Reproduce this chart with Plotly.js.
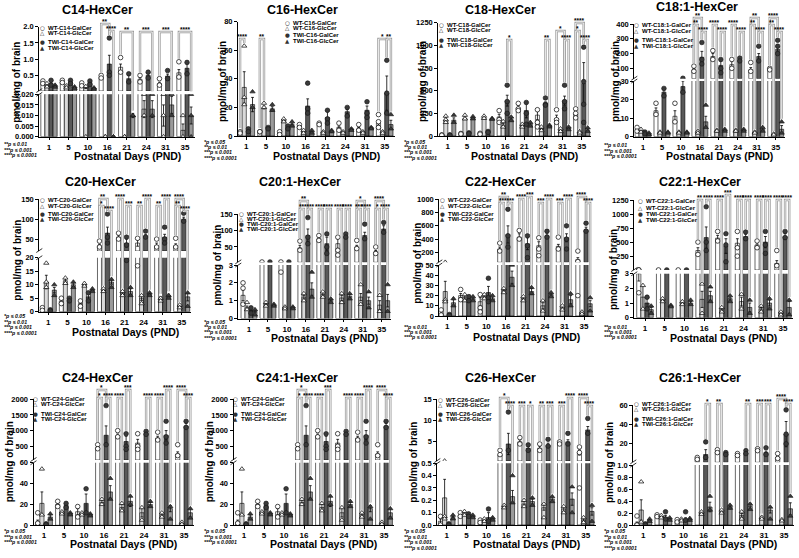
<!DOCTYPE html>
<html>
<head>
<meta charset="utf-8">
<script src="https://cdn.plot.ly/plotly-3.0.1.min.js"></script>
<style>html,body{margin:0;padding:0;background:#fff}#chart{width:799px;height:558px}</style>
</head>
<body>
<div id="chart"></div>
<script>
// Postnatal days sampled
const days = [1, 5, 10, 16, 21, 24, 31, 35];
// Series order in every panel: WT-GalCer, WT-GlcCer, TWI-GalCer, TWI-GlcCer

// ---- C14 ----
const c14Mean = [[0.28,0.30,0.22,0.45,0.75,0.38,0.25,0.58],[0.20,0.15,0.12,0.0,0.0,0.013,0.010,0.003],[0.25,0.30,0.28,0.85,0.40,0.50,0.48,0.72],[0.17,0.12,0.10,0.0,0.010,0.013,0.015,0.010]];
const c14Sem = [[0.03,0.02,0.03,0.03,0.1,0.05,0.04,0.1],[0.03,0.02,0.02,0,0,0.004,0.005,0.003],[0.04,0.03,0.04,0.27,0.1,0.05,0.06,0.17],[0.02,0.02,0.02,0,0.001,0.004,0.004,0.004]];
const c14Pts = [[[0.33,0.25],[0.35,0.28],[0.27,0.18],[0.5,0.42],[1.05,0.6],[0.5,0.3],[0.4,0.2],[0.92,0.45]],[[0.25,0.15],[0.18,0.12],[0.16,0],[0,0],[0,0],[0.02,0.01],[0.02,0.01,0],[0.01,0]],[[0.35,0.2],[0.35,0.25],[0.33,0.22],[1.65,0.6,0.5],[0.55,0.3],[0.6,0.42],[0.65,0.4],[0.9,0.55]],[[0.2,0.14],[0.15,0.1],[0.12,0.08],[0,0],[0.01,0.01],[0.02,0.01],[0.02,0.01],[0.02,0.01,0]]];

// ---- C16 ----
const c16Mean = [[3,3,2,7,8,6,5,9],[34,20,11,3,3,3,3,3],[4,6,6,21,13,17,18,30],[22,19,8,3,3,5,6,8]];
const c16Sem = [[0.5,0.5,0.5,0.5,0.5,1,1,1.5],[11,1,0.5,0.5,0.3,0.3,0.3,0.3],[0.5,0.5,0.5,5,4,1.5,3,12],[5,1.5,1,0.5,0.5,0.5,0.5,3]];
const c16Pts = [[[3,2],[3,3],[3,1],[8,6],[9,8],[9,4],[8,4],[15,10,6]],[[63,27,22],[23,20],[12,10],[4,2],[3,2],[3,2],[3,2],[3,2]],[[5,3],[6,5],[7,5],[37,19,16],[18,12,9],[20,14],[24,16,13],[53,30,16]],[[31,20],[22,18],[10,7],[4,2],[4,3],[5,4],[6,5],[15,5]]];

// ---- C18 ----
const c18Mean = [[10,25,25,210,310,230,190,250],[180,195,200,120,110,80,60,40],[10,30,45,390,280,360,390,580],[175,200,190,180,130,110,90,60]];
const c18Sem = [[2,3,3,30,30,50,40,30],[20,15,10,20,10,10,10,5],[2,3,5,60,80,15,50,230],[25,15,5,15,15,8,8,10]];
const c18Pts = [[[12,8],[28,22],[30,20],[280,180,150],[360,300,280],[290,150,100],[290,180,150],[300,250,200]],[[220,180,150],[230,190],[220,195],[160,100],[130,100],[100,60],[80,50],[50,35]],[[12,8],[35,25],[50,40],[560,380,250],[370,250,130],[420,350,340],[560,380,300],[980,600,350,150]],[[230,150],[215,190],[195,185],[210,170],[150,110],[120,100],[100,70],[90,50]]];

// ---- C18:1 ----
const c181Mean = [[4,14,11,90,180,125,90,95],[3,2,2,2,3,3,2,1],[2,24,27,175,120,160,180,230],[1.5,2,2,8,3.5,3.5,4,4]];
const c181Sem = [[0.5,1.5,3,10,20,25,15,5],[0.5,0.3,0.3,0.5,0.5,0.5,0.3,0.2],[0.3,1.5,3,40,30,10,20,30],[0.3,0.3,0.3,3,0.5,0.5,0.8,2]];
const c181Pts = [[[5,3],[18,12],[18,8],[115,80],[220,160],[160,100],[140,80],[100,90]],[[4,2.5],[2.5,2],[2.5,2],[3,2],[3.5,3],[3.5,3],[2.5,2],[1.5,1]],[[2.5,1.5],[26,22],[33,24],[275,160,130],[160,100,70],[170,150],[250,150],[290,250,200]],[[2,1],[2.5,2],[2.5,2],[17,5],[4,3],[4,3],[5,3],[8,2]]];

// ---- C20 ----
const c20Mean = [[1,4,3,33,55,40,33,33],[11,11.5,10,8,7,5,5,2],[0.5,4.5,5.5,65,40,58,55,100],[8,10,8,11,7.5,6.5,6,5.5]];
const c20Sem = [[0.3,0.5,0.8,4,5,8,7,5],[2.5,0.7,0.5,0.5,0.5,0.8,0.5,0.4],[0.2,0.5,1,15,10,3,7,5],[1,0.7,0.4,0.8,1,0.5,0.5,1.5]];
const c20Pts = [[[1.5,0.5],[5,3],[4,2],[45,30],[65,50],[52,17],[50,30],[52,30]],[[18,11,9],[12.5,10.5],[10.5,9.5],[8.5,7.5],[7.5,6],[6,3],[5,4],[2.5,1.5]],[[0.7,0.3],[5,4],[7,4],[113,55,40],[55,35,19],[70,55],[80,50,40],[115,95]],[[10,6],[11,9],[8.5,7.5],[12,9],[9,6],[7,6],[6,5],[7,2]]];

// ---- C20:1 ----
const c201Mean = [[1.3,4,3.5,47,75,60,50,35],[0.6,0.8,0.6,1.2,1.35,1.15,1.2,0.75],[0.45,4,4,85,60,85,85,105],[0.4,0.75,0.6,1.65,1.0,1.25,1.0,1.0]];
const c201Sem = [[0.3,0.2,0.3,8,6,15,5,4],[0.1,0.05,0.05,0.1,0.1,0.15,0.2,0.25],[0.05,0.2,0.2,20,20,5,10,10],[0.05,0.05,0.05,0.35,0.1,0.1,0.2,0.35]];
const c201Pts = [[[2,1.7,0.8],[4],[4,2.6],[68,40],[85,70],[80,40,25],[70,45],[50,30]],[[0.9,0.5],[0.9,0.7],[0.65,0.55],[1.4,1.0],[1.5,1.2],[1.4,0.9],[1.9,0.8],[1.3,0.4]],[[0.6,0.3],[4],[4],[140,80,60],[90,50,30],[90,80],[120,75],[125,95]],[[0.5,0.2],[0.8,0.7],[0.65,0.55],[2.6,1.2],[1.1,0.9],[1.4,1.1],[1.5,0.6],[1.9,0.4]]];

// ---- C22 ----
const c22Mean = [[2,20,14,250,430,300,290,90],[24,18,19,25,17,10,8,3],[1,17,23,470,330,450,420,540],[13,17,17,38,24,21,16,12]];
const c22Sem = [[1,2,4,30,50,60,30,30],[10,1.5,1,1.5,1.5,3,1.5,0.5],[0.3,1.5,6,130,90,30,60,40],[3,1.5,1.5,6,3,1.5,4,3]];
const c22Pts = [[[6,1],[26,16],[21,8,4],[340,220],[530,400],[420,250,150],[430,250],[220,60,20]],[[51,16,14],[21,15],[21,17],[27,23],[19,15],[15,5],[10,6],[4,2]],[[1.5,0.5],[19,15],[37,18,14],[850,450,280],[450,300,120],[520,430],[600,400,250],[640,520]],[[17,10],[19,15],[20,15],[50,30],[28,22],[23,19],[22,10],[18,5]]];

// ---- C22:1 ----
const c221Mean = [[3,4,4,350,570,480,450,120],[1.4,1.2,1.0,1.25,0.55,1.1,0.6,0.3],[1.0,4,4,580,430,600,500,600],[0.55,0.8,1.0,1.5,1.3,0.7,1.0,0.7]];
const c221Sem = [[0.5,0.2,0.2,50,50,80,40,50],[0.8,0.1,0.1,0.55,0.1,0.3,0.1,0.1],[0.3,0.2,0.2,190,130,40,100,50],[0.15,0.05,0.1,0.3,0.1,0.3,0.2,0.4]];
const c221Pts = [[[4,4,1.7],[4],[4],[500,280],[690,520],[690,400,250],[520,400],[350,80]],[[2.2,0.6],[1.3,1.1],[1.1,0.9],[2.3,0.3],[0.7,0.4],[1.6,0.6],[0.8,0.4],[0.4,0.2]],[[1.4,0.6],[4],[4],[1130,500,350],[650,450,150],[680,560],[690,450,300],[690,580]],[[0.8,0.3],[0.85,0.75],[1.2,0.9],[2.1,1.1],[1.5,1.1],[1.2,0.3],[1.3,0.6],[1.2,0.2]]];

// ---- C24 ----
const c24Mean = [[3,20,13,450,830,600,760,250],[21,12,11,22,17,12,10,2],[1,19,21,850,650,930,850,1150],[8,11,10,32,23,20,16,12]];
const c24Sem = [[2,1.5,3,40,60,120,60,70],[11,1,1,2,3,4,1.5,0.5],[0.3,1.5,9,300,170,40,150,80],[2,1,1,6,5,2,3,4]];
const c24Pts = [[[12,2],[23,18],[18,8],[550,420],[1000,800],[900,500,400],[950,700],[550,200]],[[54,10],[13,11],[12,10],[25,20],[21,14],[17,5],[12,8],[3,1]],[[1.5,0.5],[21,17],[35,12],[1800,550],[900,500,400],[980,880],[1300,800,600],[1300,1100]],[[11,6],[12,10],[11,9],[45,25],[28,20],[23,18],[18,6],[16,7]]];

// ---- C24:1 ----
const c241Mean = [[3,20,13,450,830,600,760,250],[21,12,11,22,17,12,10,2],[1,19,21,850,650,930,850,1150],[8,11,10,32,23,20,16,12]];
const c241Sem = [[2,1.5,3,40,60,120,60,70],[11,1,1,2,3,4,1.5,0.5],[0.3,1.5,9,300,170,40,150,80],[2,1,1,6,5,2,3,4]];
const c241Pts = [[[12,2],[23,18],[18,8],[550,420],[1000,800],[900,500,400],[950,700],[550,200]],[[54,10],[13,11],[12,10],[25,20],[21,14],[17,5],[12,8],[3,1]],[[1.5,0.5],[21,17],[35,12],[1800,550],[900,500,400],[980,880],[1300,800,600],[1300,1100]],[[11,6],[12,10],[11,9],[45,25],[28,20],[23,18],[18,6],[16,7]]];

// ---- C26 ----
const c26Mean = [[0.03,0.08,0.03,2,5,3.5,4.8,2.5],[0.22,0.09,0.04,0.15,0.17,0.14,0.13,0.04],[0.0,0.08,0.06,4.5,3.5,4.2,5,7.8],[0.06,0.07,0.05,0.23,0.19,0.21,0.21,0.11]];
const c26Sem = [[0.02,0.01,0.01,0.3,0.5,0.5,0.2,0.6],[0.15,0.01,0.01,0.01,0.02,0.02,0.02,0.01],[0.005,0.01,0.04,2.5,0.4,0.5,0.5,0.8],[0.01,0.01,0.01,0.05,0.02,0.02,0.05,0.03]];
const c26Pts = [[[0.07,0],[0.1,0.07],[0.04,0.02],[3,2],[6,4.5],[4.5,3],[5,4.5],[3.8,2.5,0.3]],[[0.52,0.07,0.05],[0.11,0.08],[0.05,0.03],[0.16,0.14],[0.2,0.15],[0.17,0.06],[0.15,0.1],[0.06,0.02]],[[0.01,0],[0.09,0.07],[0.13,0.03],[12,3],[4.3,3],[5.6,4],[7,4.5],[10.5,7]],[[0.08,0.05],[0.08,0.06],[0.06,0.04],[0.4,0.18],[0.22,0.16],[0.23,0.19],[0.31,0.1],[0.16,0.03]]];

// ---- C26:1 ----
const c261Mean = [[0.03,0.15,0.07,5,12,9,14,6],[0.25,0.14,0.09,0.2,0.22,0.16,0.12,0.08],[0.01,0.13,0.1,9,10,11,11,30],[0.08,0.1,0.09,0.3,0.3,0.31,0.25,0.27]];
const c261Sem = [[0.02,0.01,0.01,0.5,1,0.8,0.5,1],[0.17,0.01,0.02,0.02,0.02,0.03,0.02,0.01],[0.005,0.03,0.02,5,1,1,1.5,13],[0.02,0.02,0.02,0.08,0.03,0.05,0.05,0.1]];
const c261Pts = [[[0.15,0.0],[0.17,0.14],[0.09,0.05],[6,4],[14,11],[10,8],[15,13],[10,5]],[[0.72,0.05],[0.16,0.12],[0.1,0.07],[0.22,0.18],[0.25,0.2],[0.22,0.1],[0.13,0.1],[0.09,0.07]],[[0.02,0],[0.22,0.1],[0.22,0.08],[22,6],[11,9],[13,10],[16,9],[55,30,20]],[[0.1,0.06],[0.12,0.08],[0.11,0.08],[0.48,0.25],[0.33,0.28],[0.35,0.26],[0.3,0.1],[0.48,0.15]]];

// ---- drawing constants ----
const W = 799, H = 558;
const FONT = 'Liberation Sans, Arial, Helvetica, sans-serif';
const NARROW = 'Liberation Sans Narrow, Arial Narrow, Liberation Sans, sans-serif';
const GAP = 0.16, BW = (1 - GAP) / 4;
const barFill = ['#ffffff', '#d9d9d9', '#595959', '#9a9a9a'];
const markSym = ['circle', 'triangle-up', 'circle', 'triangle-up'];
const markFill = ['#ffffff', '#ffffff', '#3a3a3a', '#3a3a3a'];
const legendGlyph = ['○', '△', '●', '▲'];
const seriesPrefix = ['WT', 'WT', 'TWI', 'TWI'];
const seriesKind = ['GalCer', 'GlcCer', 'GalCer', 'GlcCer'];
const footText = {'*': '*p ≤ 0.05', '**': '**p ≤ 0.01', '***': '***p ≤ 0.001', '****': '****p ≤ 0.0001'};
const lin = (a, b, n) => Array.from({length: n}, (_, i) => +(a + (b - a) * i / (n - 1)).toFixed(6));

// panel geometry (pixel positions on the 799x558 page)
// low: bottom segment 0..L between pixel rows y0 and yL
// up : top segment u0..b between pixel rows ybt and yb
const panels = [
  {title:'C14-HexCer', sp:'C14', mean:c14Mean, sem:c14Sem, pts:c14Pts, x0:39.3, c1:49, c8:185,
   low:{L:0.02, y0:136.7, yL:94.3, ticks:lin(0,0.02,5), fmt:'.3f'}, up:{u0:0.02, ybt:91, b:2.0, yb:26.7, ticks:[0.5,1,1.5,2], fmt:'.1f'},
   tx:97, ty:10, ytx:16.7, yty:82, lg:{sx:42.7, ys:[28.3,33.3,42.5,47.5]}, fx:2, fy:[144,149.5,155], foot:['**','***','****'], xty:156,
   br:[[3,0,2,24,'**'],[3,2,3,31,'****'],[4,0,3,32,'**'],[5,0,3,32,'***'],[6,0,3,32,'***'],[7,0,3,32,'****']]},
  {title:'C16-HexCer', sp:'C16', mean:c16Mean, sem:c16Sem, pts:c16Pts, x0:238, c1:246.3, c8:384.7,
   low:{L:80, y0:136, yL:21.7, ticks:[0,20,40,60,80]},
   tx:302.7, ty:10, ytx:223, yty:82, lg:{sx:287.3, ys:[22.7,28,35.3,41]}, fx:202, fy:[141.7,147,152.3,157.6], foot:['*','**','***','****'], xty:156,
   br:[[0,0,1,39,'****'],[1,0,1,39,'**'],[7,0,2,39,'*'],[7,2,3,39,'**']]},
  {title:'C18-HexCer', sp:'C18', mean:c18Mean, sem:c18Sem, pts:c18Pts, x0:438.3, c1:447.8, c8:581.7,
   low:{L:1250, y0:136, yL:22.7, ticks:[0,250,500,750,1000,1250]},
   tx:500, ty:10, ytx:423, yty:82, lg:{sx:441.7, ys:[25,30,40.3,45.3]}, fx:402, fy:[141.7,147,152.3,157.6], foot:['*','**','***','****'], xty:156,
   br:[[3,2,3,40,'*'],[5,2,3,40,'**'],[6,0,2,31,'*'],[6,2,3,40,'****'],[7,0,2,23,'****'],[7,0,1,31,'*'],[7,2,3,40,'****']]},
  {title:'C18:1-HexCer', sp:'C18:1', mean:c181Mean, sem:c181Sem, pts:c181Pts, x0:634.3, c1:643, c8:775.7,
   low:{L:30, y0:136.7, yL:81, ticks:[0,10,20,30]}, up:{u0:30, ybt:78.7, b:400, yb:24, ticks:[100,200,300,400]},
   tx:696.7, ty:7.5, ytx:616, yty:82, lg:{sx:636, ys:[25,31,40,45.7]}, fx:602, fy:[145,150.7,156.4], foot:['**','***','****'], xty:156,
   br:[[3,0,2,18,'**'],[3,0,1,25,'**'],[3,2,3,32,'****'],[4,0,1,25,'****'],[4,2,3,32,'****'],[5,0,1,25,'****'],[5,2,3,32,'****'],[6,0,2,18,'**'],[6,0,1,25,'**'],[6,2,3,32,'****'],[7,0,2,18,'****'],[7,0,1,25,'**'],[7,2,3,32,'****']]},
  {title:'C20-HexCer', sp:'C20', mean:c20Mean, sem:c20Sem, pts:c20Pts, x0:39.3, c1:48.3, c8:181.7,
   low:{L:20, y0:311.7, yL:257.7, ticks:[0,5,10,15,20]}, up:{u0:20, ybt:251, b:150, yb:199.3, ticks:[50,100,150]},
   tx:100, ty:182, ytx:16.7, yty:260, lg:{sx:42.7, ys:[200,205.7,214.3,219.3]}, fx:2, fy:[316,321.5,327,332.5], foot:['*','**','***','****'], xty:332,
   br:[[3,0,2,199,'**'],[3,0,1,206,'*'],[3,2,3,211,'****'],[4,0,1,199,'****'],[4,2,3,206,'***'],[5,0,1,206,'**'],[5,2,3,199,'****'],[6,0,1,206,'**'],[6,2,3,199,'****'],[7,0,2,199,'****'],[7,0,1,206,'**'],[7,2,3,211,'****']]},
  {title:'C20:1-HexCer', sp:'C20:1', mean:c201Mean, sem:c201Sem, pts:c201Pts, x0:238.3, c1:249, c8:381.7,
   low:{L:3, y0:318.5, yL:265, ticks:[0,1,2,3]}, up:{u0:3, ybt:262.3, b:150, yb:214.3, ticks:[50,100,150]},
   tx:300, ty:182, ytx:216.7, yty:265, lg:{sx:241.7, ys:[214.3,218.8,224.3,229]}, fx:202, fy:[321.7,327,332.3,337.6], foot:['*','**','***','****'], xty:338,
   br:[[3,0,2,201,'**'],[3,0,1,209,'**'],[3,2,3,209,'****'],[4,0,1,209,'****'],[4,2,3,209,'****'],[5,0,1,209,'****'],[5,2,3,209,'****'],[6,0,2,201,'*'],[6,0,1,209,'***'],[6,2,3,209,'****'],[7,0,2,201,'****'],[7,0,1,209,'*'],[7,2,3,209,'****']]},
  {title:'C22-HexCer', sp:'C22', mean:c22Mean, sem:c22Sem, pts:c22Pts, x0:439.3, c1:447.3, c8:584,
   low:{L:50, y0:316, yL:265, ticks:[0,10,20,30,40,50]}, up:{u0:50, ybt:262.3, b:1000, yb:199.3, ticks:[200,400,600,800,1000]},
   tx:500, ty:182, ytx:416.7, yty:263, lg:{sx:442.7, ys:[200,205.7,214.3,219.3]}, fx:402, fy:[326.7,332,337.3], foot:['**','***','****'], xty:337,
   br:[[3,0,2,197,'**'],[3,0,1,203,'**'],[3,2,3,203,'****'],[4,0,1,199,'****'],[4,2,3,197,'***'],[5,0,1,203,'***'],[5,2,3,199,'****'],[6,0,1,203,'***'],[6,2,3,199,'****'],[7,0,2,197,'****'],[7,2,3,203,'****']]},
  {title:'C22:1-HexCer', sp:'C22:1', mean:c221Mean, sem:c221Sem, pts:c221Pts, x0:634.3, c1:645, c8:783,
   low:{L:3, y0:317.7, yL:273.7, ticks:[0,1,2,3]}, up:{u0:3, ybt:270, b:1250, yb:200, ticks:[250,500,750,1000,1250]},
   tx:700, ty:182, ytx:613, yty:270, lg:{sx:640.7, ys:[200.7,208.3,214.3,220]}, fx:602, fy:[326.7,332,337.3], foot:['**','***','****'], xty:338,
   br:[[3,0,1,200,'**'],[3,2,3,200,'****'],[4,0,1,200,'****'],[4,2,3,195,'***'],[5,0,1,200,'****'],[5,2,3,200,'****'],[6,0,1,200,'****'],[6,2,3,200,'****'],[7,0,1,200,'****'],[7,2,3,200,'****']]},
  {title:'C24-HexCer', sp:'C24', mean:c24Mean, sem:c24Sem, pts:c24Pts, x0:33.5, c1:44, c8:184,
   low:{L:60, y0:525.3, yL:462.7, ticks:[0,20,40,60]}, up:{u0:60, ybt:460, b:2000, yb:399.3, ticks:[500,1000,1500,2000]},
   tx:97, ty:378, ytx:9.3, yty:462, lg:{sx:35, ys:[399,404.3,414.3,419]}, fx:2, fy:[531,536.5,542], foot:['*','***','****'], xty:544,
   br:[[3,0,2,390,'*'],[3,0,1,398,'*'],[3,2,3,398,'****'],[4,0,1,398,'****'],[4,2,3,390,'***'],[5,2,3,398,'****'],[6,0,1,398,'****'],[6,2,3,390,'****'],[7,0,2,390,'****'],[7,2,3,398,'****']]},
  {title:'C24:1-HexCer', sp:'C24', mean:c241Mean, sem:c241Sem, pts:c241Pts, x0:233.5, c1:244, c8:384,
   low:{L:60, y0:525.3, yL:462.7, ticks:[0,20,40,60]}, up:{u0:60, ybt:460, b:2000, yb:399.3, ticks:[500,1000,1500,2000]},
   tx:297, ty:378, ytx:209.3, yty:462, lg:{sx:235, ys:[399,404.3,414.3,419]}, fx:202, fy:[531,536.5,542], foot:['*','***','****'], xty:544,
   br:[[3,0,2,390,'*'],[3,0,1,398,'*'],[3,2,3,398,'****'],[4,0,1,398,'****'],[4,2,3,390,'***'],[5,2,3,398,'****'],[6,0,1,398,'****'],[6,2,3,390,'****'],[7,0,2,390,'****'],[7,2,3,398,'****']]},
  {title:'C26-HexCer', sp:'C26', mean:c26Mean, sem:c26Sem, pts:c26Pts, x0:437.3, c1:446.7, c8:585.7,
   low:{L:0.5, y0:525, yL:463.3, ticks:lin(0,0.5,6), fmt:'.1f'}, up:{u0:0.5, ybt:461, b:15, yb:399.3, ticks:[5,10,15]},
   tx:500, ty:378, ytx:412.7, yty:462, lg:{sx:440.7, ys:[400,405,414.3,419.3]}, fx:402, fy:[531,536.5,542,547.5], foot:['*','**','***','****'], xty:544,
   br:[[3,0,2,398,'*'],[3,2,3,406,'****'],[4,0,1,406,'***'],[4,2,3,406,'*'],[5,0,1,406,'**'],[5,2,3,406,'***'],[6,0,1,406,'***'],[6,2,3,398,'****'],[7,0,2,398,'****'],[7,2,3,406,'****']]},
  {title:'C26:1-HexCer', sp:'C26:1', mean:c261Mean, sem:c261Sem, pts:c261Pts, x0:633.3, c1:643.3, c8:784,
   low:{L:1.0, y0:525, yL:465, ticks:lin(0,1,6), fmt:'.1f'}, up:{u0:1.0, ybt:462.3, b:60, yb:405, ticks:[20,40,60]},
   tx:700, ty:378, ytx:609, yty:463, lg:{sx:636, ys:[404.3,409.3,419,424]}, fx:602, fy:[531,536.5,542,547.5], foot:['*','**','***','****'], xty:544,
   br:[[3,2,3,404,'*'],[4,0,1,404,'**'],[5,2,3,404,'**'],[6,0,1,404,'***'],[6,2,3,404,'***'],[7,0,2,399,'****'],[7,2,3,404,'****']]}
];

const traces = [], shapes = [], annotations = [];
const layout = {
  width: W, height: H, margin: {l: 0, r: 0, t: 0, b: 0},
  paper_bgcolor: '#ffffff', plot_bgcolor: 'rgba(0,0,0,0)',
  showlegend: false, barmode: 'overlay', hovermode: false,
  font: {family: FONT, color: '#000'}
};

const px2x = v => v / W;
const px2y = v => 1 - v / H;
const barCenter = s => -(1 - GAP) / 2 + BW * (s + 0.5);

// text placed at an exact spot on the page
function note(x, y, text, font, extra) {
  annotations.push(Object.assign({xref: 'paper', yref: 'paper', x: px2x(x), y: px2y(y), xanchor: 'center', yanchor: 'middle',
    text, showarrow: false, font: Object.assign({family: FONT, color: '#000'}, font)}, extra || {}));
}

function axisStyle(extra) {
  return Object.assign({
    showline: true, linecolor: '#000', linewidth: 1, ticks: 'outside', ticklen: 3, tickwidth: 1,
    tickcolor: '#000', showgrid: false, zeroline: false, fixedrange: true,
    tickfont: {family: FONT, size: 7.5, color: '#000', weight: 'bold'}
  }, extra);
}

// maps a value to its vertical pixel position inside panel p
function valToPx(p, v) {
  const lo = p.low;
  if (v <= lo.L) return lo.y0 - v * (lo.y0 - lo.yL) / lo.L;
  if (!p.up) return lo.yL;
  const u = p.up;
  return u.ybt - (v - u.u0) * (u.ybt - u.yb) / (u.b - u.u0);
}

panels.forEach((p, k) => {
  const xn = k + 1;
  const xid = xn === 1 ? 'x' : 'x' + xn;
  const yLowN = 2 * k + 1, yUpN = 2 * k + 2;
  const yLowId = yLowN === 1 ? 'y' : 'y' + yLowN;
  const yUpId = 'y' + yUpN;
  const step = (p.c8 - p.c1) / 7;
  const xEnd = p.c8 + 0.5 * step;

  layout[xn === 1 ? 'xaxis' : 'xaxis' + xn] = axisStyle({
    domain: [px2x(p.x0), px2x(xEnd)], range: [-(p.c1 - p.x0) / step, 7.5], anchor: yLowId,
    tickmode: 'array', tickvals: days.map((d, i) => i), ticktext: days.map(String), ticklen: 2.5,
    tickfont: {family: FONT, size: 8, color: '#000', weight: 'bold'}
  });
  const lo = p.low;
  layout[yLowN === 1 ? 'yaxis' : 'yaxis' + yLowN] = axisStyle({
    domain: [px2y(lo.y0), px2y(lo.yL)], range: [0, lo.L], anchor: xid,
    tickmode: 'array', tickvals: lo.ticks, tickformat: lo.fmt || ''
  });
  if (p.up) {
    const u = p.up;
    layout['yaxis' + yUpN] = axisStyle({
      domain: [px2y(u.ybt), px2y(u.yb)], range: [u.u0, u.b], anchor: xid,
      tickmode: 'array', tickvals: u.ticks, tickformat: u.fmt || ''
    });
    // axis break marks
    shapes.push({type: 'line', xref: 'paper', yref: 'paper', x0: px2x(p.x0 - 3), x1: px2x(p.x0 + 3), y0: px2y(u.ybt + 1.5), y1: px2y(u.ybt - 2.5), line: {color: '#000', width: 0.8}});
    shapes.push({type: 'line', xref: 'paper', yref: 'paper', x0: px2x(p.x0 - 3), x1: px2x(p.x0 + 3), y0: px2y(lo.yL + 2), y1: px2y(lo.yL - 2), line: {color: '#000', width: 0.8}});
  }

  for (let s = 0; s < 4; s++) {
    const xs = days.map((d, i) => i);
    const common = {
      type: 'bar', x: xs, xaxis: xid, offset: -(1 - GAP) / 2 + s * BW, width: BW,
      marker: {color: barFill[s], line: {color: '#000', width: 0.6}}, hoverinfo: 'skip',
      error_y: {type: 'data', array: p.sem[s], visible: true, color: '#000', thickness: 0.8, width: 1.4}
    };
    traces.push(Object.assign({}, common, {y: p.mean[s], yaxis: yLowId}));
    if (p.up) {
      const u0 = p.up.u0;
      traces.push(Object.assign({}, common, {
        y: p.mean[s].map(m => (m > lo.L ? m - u0 : null)), base: u0, yaxis: yUpId,
        error_y: Object.assign({}, common.error_y, {array: p.mean[s].map((m, i) => (m > lo.L ? p.sem[s][i] : 0))})
      }));
    }
    // individual animals
    const px = [], py = [], ux = [], uy = [];
    p.pts[s].forEach((arr, i) => arr.forEach(v => {
      if (v <= lo.L) { px.push(i + barCenter(s)); py.push(v); }
      else if (p.up) { ux.push(i + barCenter(s)); uy.push(v); }
    }));
    const mk = {symbol: markSym[s], size: 4.6, color: markFill[s], line: {color: s < 2 ? '#000' : '#1a1a1a', width: 0.7}};
    traces.push({type: 'scatter', mode: 'markers', x: px, y: py, xaxis: xid, yaxis: yLowId, marker: mk, hoverinfo: 'skip', cliponaxis: true});
    if (p.up) traces.push({type: 'scatter', mode: 'markers', x: ux, y: uy, xaxis: xid, yaxis: yUpId, marker: mk, hoverinfo: 'skip', cliponaxis: true});
  }

  // significance brackets
  const topOf = (s, i) => Math.max(p.mean[s][i] + p.sem[s][i], ...p.pts[s][i]);
  p.br.forEach(([d, s1, s2, yTop, lab]) => {
    const xa = d + barCenter(s1), xb = d + barCenter(s2);
    const yb1 = Math.max(valToPx(p, topOf(s1, d)) - 3, yTop + 1);
    const yb2 = Math.max(valToPx(p, topOf(s2, d)) - 3, yTop + 1);
    const path = `M ${xa},${px2y(yb1)} L ${xa},${px2y(yTop)} L ${xb},${px2y(yTop)} L ${xb},${px2y(yb2)}`;
    shapes.push({type: 'path', xref: xid, yref: 'paper', path, line: {color: '#9a9a9a', width: 2.4}});
    shapes.push({type: 'path', xref: xid, yref: 'paper', path, line: {color: '#ffffff', width: 0.8}});
    annotations.push({xref: xid, yref: 'paper', x: (xa + xb) / 2, y: px2y(yTop), xanchor: 'center', yanchor: 'bottom', yshift: -3,
      text: lab, showarrow: false, font: {family: FONT, size: 6.5, weight: 'bold'}});
  });

  // titles
  note(p.tx, p.ty, '<b>' + p.title + '</b>', {family: NARROW, size: 12.5});
  note(p.ytx, p.yty, '<b>pmol/mg of brain</b>', {size: 10}, {textangle: -90});
  note((p.x0 + xEnd) / 2 + 10, p.xty, '<b>Postnatal Days (PND)</b>', {size: 10.5});

  // legend
  for (let s = 0; s < 4; s++) {
    note(p.lg.sx, p.lg.ys[s], legendGlyph[s], {family: 'DejaVu Sans', size: 5.5, color: s < 2 ? '#000' : '#333'});
    note(p.lg.sx + 3.5, p.lg.ys[s], '<b>' + seriesPrefix[s] + '-' + p.sp + '-' + seriesKind[s] + '</b>', {size: 6}, {xanchor: 'left'});
  }

  // p-value key
  p.foot.forEach((f, j) => {
    note(p.fx, p.fy[j], '<b><i>' + footText[f] + '</i></b>', {size: 5.2}, {xanchor: 'left'});
  });
});

layout.shapes = shapes;
layout.annotations = annotations;
Plotly.newPlot('chart', traces, layout, {staticPlot: true, displayModeBar: false});
</script>
</body>
</html>
